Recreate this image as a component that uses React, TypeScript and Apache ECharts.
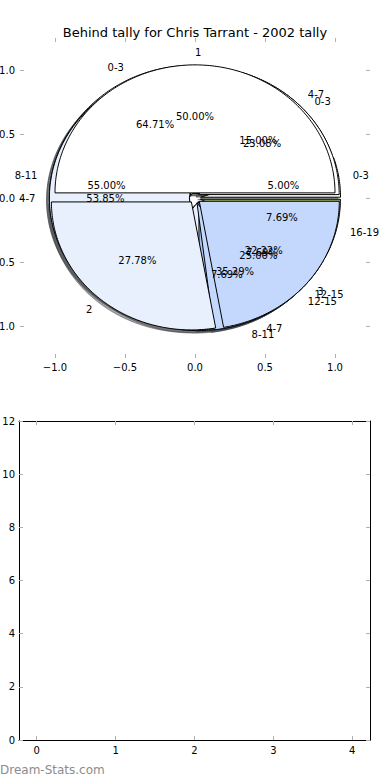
import React, { useEffect, useRef } from 'react';
import * as echarts from 'echarts';

const chartTitle = 'Behind tally for Chris Tarrant - 2002 tally';
const watermark = 'Dream-Stats.com';

// Pies, in drawing order (the tally pie is drawn last, on top)
const pieALabels = ['0-3', '4-7'];
const pieAValues = [11, 6];
const pieBLabels = ['0-3', '4-7', '8-11', '12-15'];
const pieBValues = [1, 3, 11, 5];
const pieCLabels = ['0-3', '4-7', '8-11', '12-15', '16-19'];
const pieCValues = [3, 7, 1, 1, 1];
const tallyLabels = ['1', '2', '3'];
const tallyValues = [9, 5, 4];

const wedgeColors = ['#ffffff', '#e8f0fe', '#c4d8fe', '#a9c3f0', '#9db35e'];

const pieTicks = [-1, -0.5, 0, 0.5, 1];
const barXTicks = [0, 1, 2, 3, 4];

const FONT = 'DejaVu Sans';
const EXPLODE = 0.04;
const TICK_COLOR = '#b0b0b0';

type Wedge = {
  t1: number;
  t2: number;
  cx: number;
  cy: number;
  mid: number;
  label: string;
  pct: string;
  color: string;
};

const pies: [string[], number[]][] = [
  [pieALabels, pieAValues],
  [pieBLabels, pieBValues],
  [pieCLabels, pieCValues],
  [tallyLabels, tallyValues],
];

const wedges: Wedge[] = [];
pies.forEach(([labels, values]) => {
  const total = values.reduce((a, b) => a + b, 0);
  let acc = 0;
  values.forEach((v, i) => {
    const t1 = (acc / total) * 360;
    acc += v;
    const t2 = (acc / total) * 360;
    const mid = (((t1 + t2) / 2) * Math.PI) / 180;
    wedges.push({
      t1,
      t2,
      mid,
      cx: EXPLODE * Math.cos(mid),
      cy: EXPLODE * Math.sin(mid),
      label: labels[i],
      pct: ((v / total) * 100).toFixed(2) + '%',
      color: wedgeColors[i % wedgeColors.length],
    });
  });
});

function darken(hex: string): string {
  const n = parseInt(hex.slice(1), 16);
  const r = Math.round(((n >> 16) & 255) * 0.3);
  const g = Math.round(((n >> 8) & 255) * 0.3);
  const b = Math.round((n & 255) * 0.3);
  return `rgb(${r},${g},${b})`;
}

function wedgePoints(w: Wedge, api: any, dx = 0, dy = 0): number[][] {
  const ox = w.cx + dx;
  const oy = w.cy + dy;
  const pts: number[][] = [api.coord([ox, oy])];
  const n = Math.max(2, Math.ceil(w.t2 - w.t1));
  for (let k = 0; k <= n; k++) {
    const a = ((w.t1 + ((w.t2 - w.t1) * k) / n) * Math.PI) / 180;
    pts.push(api.coord([ox + Math.cos(a), oy + Math.sin(a)]));
  }
  return pts;
}

const fmtTick = (v: number) => (v < 0 ? '\u2212' : '') + Math.abs(v).toFixed(1);

export default function App() {
  const ref = useRef<HTMLDivElement>(null);

  useEffect(() => {
    if (!ref.current) return;
    const chart = echarts.init(ref.current, undefined, { renderer: 'svg' });

    const tickStyle = { color: TICK_COLOR, width: 1 };
    const labelStyle = { fontSize: 10, color: '#000', fontFamily: FONT };
    const wedgeData = wedges.map((w, i) => [w.cx, w.cy, i]);

    const option: any = {
      animation: false,
      backgroundColor: '#ffffff',
      title: {
        text: chartTitle,
        left: 'center',
        top: 21,
        textStyle: { fontSize: 13, fontWeight: 'normal', color: '#000', fontFamily: FONT },
      },
      graphic: [
        {
          type: 'text',
          left: 0,
          top: 764,
          style: { text: watermark, fontSize: 12, fill: '#8c8c8c', fontFamily: FONT },
        },
      ],
      grid: [
        { left: 20, top: 38, width: 350, height: 320, containLabel: false, outerBoundsMode: 'none' },
        { left: 19, top: 421, width: 351, height: 319, containLabel: false, outerBoundsMode: 'none' },
      ],
      xAxis: [
        {
          type: 'value', gridIndex: 0, position: 'bottom', min: -1.25, max: 1.25,
          axisLine: { show: false, onZero: false },
          splitLine: { show: false },
          axisTick: { show: true, inside: true, length: 4, lineStyle: tickStyle, customValues: pieTicks },
          axisLabel: { ...labelStyle, margin: 4, customValues: pieTicks, formatter: fmtTick },
        },
        {
          type: 'value', gridIndex: 0, position: 'top', min: -1.25, max: 1.25,
          axisLine: { show: false, onZero: false },
          splitLine: { show: false },
          axisTick: { show: true, inside: true, length: 4, lineStyle: tickStyle, customValues: pieTicks },
          axisLabel: { show: false },
        },
        {
          type: 'value', gridIndex: 1, position: 'bottom', min: -0.225, max: 4.225,
          axisLine: { show: true, onZero: false, lineStyle: { color: '#000', width: 1 } },
          splitLine: { show: false },
          axisTick: { show: true, inside: true, length: 4, lineStyle: tickStyle, customValues: barXTicks },
          axisLabel: { ...labelStyle, margin: 5, customValues: barXTicks },
        },
        {
          type: 'value', gridIndex: 1, position: 'top', min: -0.225, max: 4.225,
          axisLine: { show: true, onZero: false, lineStyle: { color: '#000', width: 1 } },
          splitLine: { show: false },
          axisTick: { show: true, inside: true, length: 4, lineStyle: tickStyle, customValues: barXTicks },
          axisLabel: { show: false },
        },
      ],
      yAxis: [
        {
          type: 'value', gridIndex: 0, position: 'left', min: -1.25, max: 1.25,
          axisLine: { show: false, onZero: false },
          splitLine: { show: false },
          axisTick: { show: true, inside: true, length: 4, lineStyle: tickStyle, customValues: pieTicks },
          axisLabel: { ...labelStyle, margin: 5, customValues: pieTicks, formatter: fmtTick },
        },
        {
          type: 'value', gridIndex: 0, position: 'right', min: -1.25, max: 1.25,
          axisLine: { show: false, onZero: false },
          splitLine: { show: false },
          axisTick: { show: true, inside: true, length: 4, lineStyle: tickStyle, customValues: pieTicks },
          axisLabel: { show: false },
        },
        {
          type: 'value', gridIndex: 1, position: 'left', min: 0, max: 12, interval: 2,
          axisLine: { show: true, onZero: false, lineStyle: { color: '#000', width: 1 } },
          splitLine: { show: false },
          axisTick: { show: true, inside: true, length: 4, lineStyle: tickStyle },
          axisLabel: { ...labelStyle, margin: 4 },
        },
        {
          type: 'value', gridIndex: 1, position: 'right', min: 0, max: 12, interval: 2,
          axisLine: { show: true, onZero: false, lineStyle: { color: '#000', width: 1 } },
          splitLine: { show: false },
          axisTick: { show: true, inside: true, length: 4, lineStyle: tickStyle },
          axisLabel: { show: false },
        },
      ],
      series: [
        {
          type: 'custom',
          name: 'shadows',
          coordinateSystem: 'cartesian2d',
          xAxisIndex: 0,
          yAxisIndex: 0,
          silent: true,
          z: 1,
          encode: { x: 0, y: 1 },
          data: wedgeData,
          renderItem: (params: any, api: any) => {
            const w = wedges[params.dataIndex];
            const c = darken(w.color);
            return {
              type: 'polygon',
              shape: { points: wedgePoints(w, api, -0.02, -0.02) },
              style: { fill: c, stroke: c, lineWidth: 1, opacity: 0.5 },
            };
          },
        },
        {
          type: 'custom',
          name: 'wedges',
          coordinateSystem: 'cartesian2d',
          xAxisIndex: 0,
          yAxisIndex: 0,
          silent: true,
          z: 2,
          encode: { x: 0, y: 1 },
          data: wedgeData,
          renderItem: (params: any, api: any) => {
            const w = wedges[params.dataIndex];
            return {
              type: 'polygon',
              shape: { points: wedgePoints(w, api) },
              style: { fill: w.color, stroke: '#000', lineWidth: 1, lineJoin: 'miter' },
            };
          },
        },
        {
          type: 'custom',
          name: 'labels',
          coordinateSystem: 'cartesian2d',
          xAxisIndex: 0,
          yAxisIndex: 0,
          silent: true,
          z: 3,
          encode: { x: 0, y: 1 },
          data: wedgeData,
          renderItem: (params: any, api: any) => {
            const w = wedges[params.dataIndex];
            const c = Math.cos(w.mid);
            const s = Math.sin(w.mid);
            const lp = api.coord([w.cx + 1.1 * c, w.cy + 1.1 * s]);
            const pp = api.coord([w.cx + 0.6 * c, w.cy + 0.6 * s]);
            return {
              type: 'group',
              children: [
                {
                  type: 'text',
                  x: lp[0],
                  y: lp[1],
                  style: {
                    text: w.label,
                    fill: '#000',
                    fontSize: 10,
                    fontFamily: FONT,
                    align: c > 0 ? 'left' : 'right',
                    verticalAlign: 'middle',
                  },
                },
                {
                  type: 'text',
                  x: pp[0],
                  y: pp[1],
                  style: {
                    text: w.pct,
                    fill: '#000',
                    fontSize: 10,
                    fontFamily: FONT,
                    align: 'center',
                    verticalAlign: 'middle',
                  },
                },
              ],
            };
          },
        },
      ],
    };

    chart.setOption(option);
    return () => chart.dispose();
  }, []);

  return (
    <div
      ref={ref}
      style={{ position: 'fixed', left: 0, top: 0, width: 390, height: 780, background: '#fff' }}
    />
  );
}
